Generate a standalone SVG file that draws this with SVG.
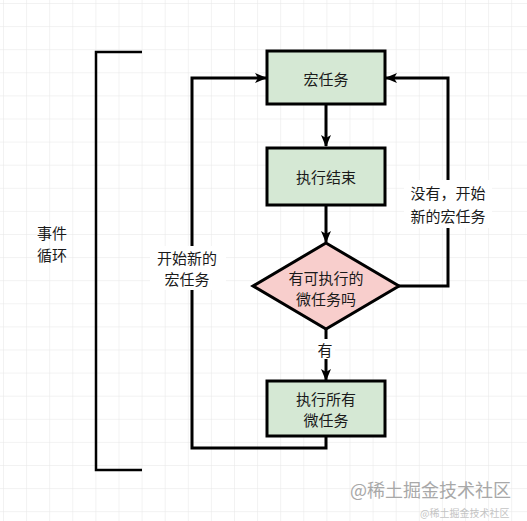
<svg xmlns="http://www.w3.org/2000/svg" width="527" height="521" viewBox="0 0 527 521">
<defs>
<pattern id="grid" x="3" y="3" width="23.1" height="23.1" patternUnits="userSpaceOnUse">
<path d="M0 0H23.1M0 0V23.1" fill="none" stroke="#e6e6e6" stroke-width="1"/>
</pattern>
<marker id="arr" viewBox="0 0 12 10" refX="11" refY="5" markerWidth="12" markerHeight="10" markerUnits="userSpaceOnUse" orient="auto">
<path d="M0 0L12 5L0 10L3 5Z" fill="#000"/>
</marker>
</defs>
<style>
.box{fill:#d5e8d4;stroke:#000;stroke-width:3}
.dia{fill:#f8cecc;stroke:#000;stroke-width:3}
.c{fill:none;stroke:#000;stroke-width:3}
.t{font-family:"Noto Sans CJK SC","Liberation Sans",sans-serif;font-size:15px;fill:#1a1a1a;text-anchor:middle;dominant-baseline:central}
.lbl{fill:#fff}
</style>
<rect width="527" height="521" fill="#fff"/>
<rect width="527" height="521" fill="url(#grid)"/>

<g id="connectors">
<line class="c" x1="326" y1="104" x2="326" y2="146" marker-end="url(#arr)"/>
<line class="c" x1="326" y1="205" x2="326" y2="242" marker-end="url(#arr)"/>
<line class="c" x1="326" y1="329" x2="326" y2="380" marker-end="url(#arr)"/>
<polyline class="c" points="398,286 448,286 448,78 386,78" marker-end="url(#arr)"/>
<polyline class="c" points="326,436 326,448 192,448 192,78 266,78" marker-end="url(#arr)"/>
<rect class="lbl" x="404" y="180" width="88" height="48"/>
<text class="t" x="448" y="192">没有，开始</text>
<text class="t" x="448" y="215">新的宏任务</text>
<rect class="lbl" x="315" y="339" width="20" height="20"/>
<text class="t" x="325" y="349">有</text>
<rect class="lbl" x="150" y="246" width="76" height="44"/>
<text class="t" x="187" y="257">开始新的</text>
<text class="t" x="187" y="278">宏任务</text>
</g>

<g id="n1">
<rect class="box" x="267" y="51" width="118" height="53"/>
<text class="t" x="326" y="78" font-size="16">宏任务</text>
</g>
<g id="n2">
<rect class="box" x="267" y="148" width="118" height="57"/>
<text class="t" x="326" y="176" font-size="16">执行结束</text>
</g>
<g id="n3">
<polygon class="dia" points="326,243 399,286 326,329 253,286"/>
<text class="t" x="326" y="277">有可执行的</text>
<text class="t" x="326" y="298">微任务吗</text>
</g>
<g id="n4">
<rect class="box" x="267" y="381" width="118" height="55"/>
<text class="t" x="326" y="398">执行所有</text>
<text class="t" x="326" y="419">微任务</text>
</g>
<g id="bracket">
<polyline fill="none" stroke="#000" stroke-width="2.5" points="142,52 96,52 96,470 142,470"/>
<text class="t" x="52" y="232">事件</text>
<text class="t" x="52" y="254">循环</text>
</g>
<g id="watermark">
<text x="350" y="497" font-family="Noto Sans CJK SC,sans-serif" font-size="18" fill="#a8a8a8">@稀土掘金技术社区</text>
<text x="420" y="517" font-family="Noto Sans CJK SC,sans-serif" font-size="10" fill="#c4c4c4">@稀土掘金技术社区</text>
</g>
</svg>
